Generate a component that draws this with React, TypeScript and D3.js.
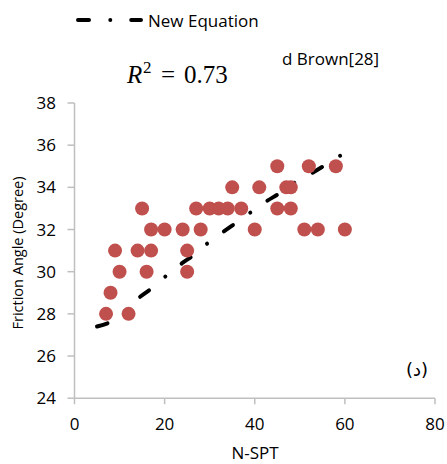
import React from "react";
import * as d3 from "d3";

// Measured data points: SPT blow count vs friction angle
const nSpt: number[] = [45, 52, 58, 35, 41, 47, 48, 15, 27, 30, 32, 34, 37, 45, 48, 17, 20, 24, 28, 40, 51, 54, 60, 9, 14, 17, 25, 10, 16, 25, 8, 7, 12];
const phi: number[] = [35, 35, 35, 34, 34, 34, 34, 33, 33, 33, 33, 33, 33, 33, 33, 32, 32, 32, 32, 32, 32, 32, 32, 31, 31, 31, 31, 30, 30, 30, 29, 28, 28];

// New equation curve (N, phi)
const eqN: number[] = [5, 8.3, 14.5, 17.4, 20.5, 23.8, 26.4, 29.6, 33, 35.8, 39.2, 42.6, 45.6, 48.5, 52.5, 55.6, 59.1];
const eqPhi: number[] = [27.4, 27.65, 28.8, 29.25, 29.83, 30.39, 30.78, 31.36, 31.89, 32.31, 32.83, 33.34, 33.73, 34.18, 34.65, 35.05, 35.52];

const xTicks: number[] = [0, 20, 40, 60, 80];
const yTicks: number[] = [24, 26, 28, 30, 32, 34, 36, 38];

const W = 447;
const H = 464;
const FONT = "'Open Sans', sans-serif";
const AXIS = "#bfbfbf";
const DASH = "11 21.3 0.01 20.9";

export default function App() {
  const x = d3.scaleLinear().domain([0, 80]).range([74.5, 435]);
  const y = d3.scaleLinear().domain([24, 38]).range([398.2, 103]);

  const line = d3
    .line<number>()
    .x((i) => x(eqN[i]))
    .y((i) => y(eqPhi[i]))
    .curve(d3.curveMonotoneX);
  const pathD = line(eqN.map((_, i) => i)) || "";

  return (
    <svg
      width={W}
      height={H}
      style={{ position: "absolute", left: 0, top: 0, background: "#fff" }}
      fontFamily={FONT}
    >
      {/* legend */}
      <line x1={78} x2={141} y1={20} y2={20} stroke="#000" strokeWidth={4} strokeLinecap="round" strokeDasharray={DASH} />
      <text x={148} y={26.5} fontSize={17} fill="#000">New Equation</text>

      {/* annotations */}
      <text x={282} y={65} fontSize={17} fill="#000">d Brown[28]</text>
      <text y={82.5} fontFamily="'Liberation Serif', serif" fontSize={25} fill="#000">
        <tspan x={127} fontStyle="italic">R</tspan>
        <tspan x={143} dy={-10} fontSize={17}>2</tspan>
        <tspan x={161} dy={10}>=</tspan>
        <tspan x={184}>0.73</tspan>
      </text>
      <text x={417} y={376} fontSize={18} textAnchor="middle" fontFamily="'DejaVu Sans', sans-serif" fill="#000">(د)</text>

      {/* axes */}
      <line x1={x(0)} x2={x(80)} y1={y(24)} y2={y(24)} stroke={AXIS} strokeWidth={1.5} />
      <line x1={x(0)} x2={x(0)} y1={y(24)} y2={y(38)} stroke={AXIS} strokeWidth={1.5} />
      {xTicks.map((t) => (
        <g key={"x" + t}>
          <line x1={x(t)} x2={x(t)} y1={y(24)} y2={y(24) + 6} stroke={AXIS} strokeWidth={1.5} />
          <text x={x(t)} y={430} fontSize={17} textAnchor="middle" fill="#000">{t}</text>
        </g>
      ))}
      {yTicks.map((t) => (
        <g key={"y" + t}>
          <line x1={x(0) - 7} x2={x(0)} y1={y(t)} y2={y(t)} stroke={AXIS} strokeWidth={1.5} />
          <text x={56} y={y(t) + 6} fontSize={17} textAnchor="end" fill="#000">{t}</text>
        </g>
      ))}
      <text x={255} y={459} fontSize={17} textAnchor="middle" fill="#000">N-SPT</text>
      <text
        transform={`translate(23, ${253}) rotate(-90)`}
        fontSize={14.5}
        textAnchor="middle"
        fill="#000"
      >
        Friction Angle (Degree)
      </text>

      {/* equation curve */}
      <path d={pathD} fill="none" stroke="#000" strokeWidth={4} strokeLinecap="round" strokeDasharray={DASH} />

      {/* data points */}
      {nSpt.map((n, i) => (
        <circle key={i} cx={x(n)} cy={y(phi[i])} r={7} fill="#c0504d" />
      ))}
    </svg>
  );
}
